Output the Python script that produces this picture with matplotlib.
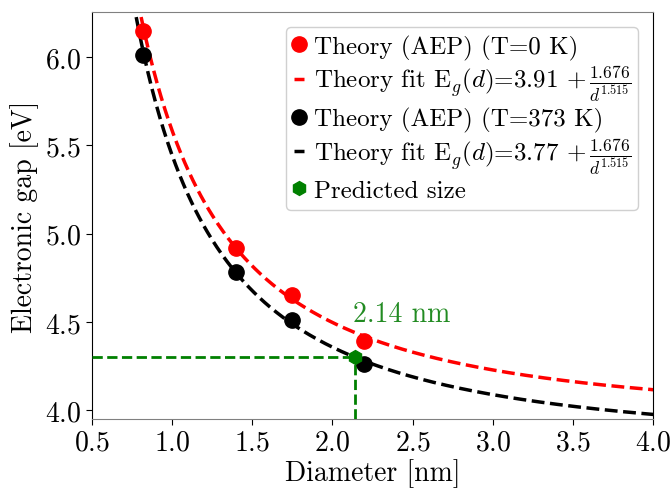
import numpy as np
import matplotlib
matplotlib.use("Agg")
import matplotlib.pyplot as plt

plt.rcParams["font.family"] = "serif"
plt.rcParams["font.serif"] = ["cmr10"]
plt.rcParams["mathtext.fontset"] = "cm"
plt.rcParams["axes.formatter.use_mathtext"] = True

# AEP electronic gaps vs diameter
diam = [0.82, 1.40, 1.75, 2.20]
gap_0K = [6.15, 4.92, 4.65, 4.39]
gap_373K = [6.01, 4.78, 4.51, 4.26]

# Fit parameters: E_g(d) = E0 + A / d**p
fit_A = 1.676
fit_p = 1.515
fit_E0_0K = 3.91
fit_E0_373K = 3.77

pred_size = 2.14
pred_gap = 4.30

xlim = (0.5, 4.0)
ylim = (3.949, 6.255)

fig, ax = plt.subplots(figsize=(6.7, 4.89), dpi=100)
fig.subplots_adjust(left=0.137, right=0.975, top=0.973, bottom=0.141)

d = np.linspace(0.7, 4.0, 400)

ax.plot(diam, gap_0K, "o", color="red", ms=11, zorder=4,
        label="Theory (AEP) (T=0 K)")
ax.plot(d, fit_E0_0K + fit_A / d**fit_p, "--", color="red", lw=2.5,
        label=r"Theory fit E$_g(d)$=3.91 $+\,\frac{1.676}{d^{1.515}}$")
ax.plot(diam, gap_373K, "o", color="black", ms=11, zorder=4,
        label="Theory (AEP) (T=373 K)")
ax.plot(d, fit_E0_373K + fit_A / d**fit_p, "--", color="black", lw=2.5,
        label=r"Theory fit E$_g(d)$=3.77 $+\,\frac{1.676}{d^{1.515}}$")

ax.plot([xlim[0], pred_size], [pred_gap, pred_gap], "--", color="green", lw=2, zorder=3)
ax.plot([pred_size, pred_size], [ylim[0], pred_gap], "--", color="green", lw=2, zorder=3)
ax.plot([pred_size], [pred_gap], "h", color="green", ms=10, zorder=5,
        label="Predicted size")
ax.text(pred_size + 0.29, pred_gap + 0.245, f"{pred_size:.2f} nm", color="forestgreen",
        fontsize=20, ha="center", va="center")

ax.set_xlim(*xlim)
ax.set_ylim(*ylim)
ax.set_xticks(np.arange(0.5, 4.01, 0.5))
ax.set_yticks([4.0, 4.5, 5.0, 5.5, 6.0])
ax.set_xlabel("Diameter [nm]", fontsize=20, labelpad=2)
ax.set_ylabel("Electronic gap [eV]", fontsize=20, labelpad=4)
ax.tick_params(labelsize=20, direction="out", length=4)

ax.spines["top"].set_color("gray")
ax.spines["bottom"].set_color("gray")

leg = ax.legend(loc="upper right", fontsize=18, handlelength=0.4, handletextpad=0.4,
                borderpad=0.3, labelspacing=0.15, borderaxespad=0.6, framealpha=1)
leg.get_frame().set_edgecolor("#d0d0d0")

fig.savefig("out.png", dpi=100)
